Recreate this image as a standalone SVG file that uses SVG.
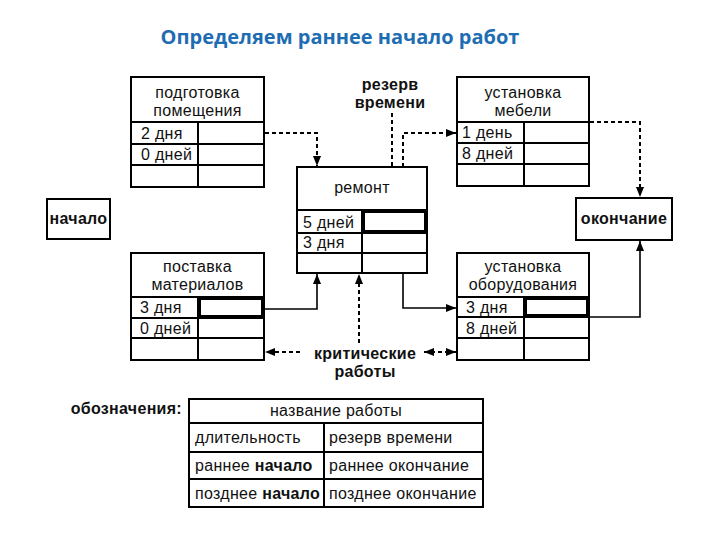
<svg xmlns="http://www.w3.org/2000/svg" width="720" height="540" viewBox="0 0 720 540">
<defs>
<style>
.box{fill:#fff;stroke:#000;stroke-width:2}
.ln{stroke:#000;stroke-width:2;fill:none}
.thick{fill:none;stroke:#000;stroke-width:4}
.t{font-family:"Liberation Sans",Arial,sans-serif;font-size:16px;letter-spacing:0.3px;fill:#111}
.c{text-anchor:middle}
.b{font-weight:bold}
.dash{stroke:#000;stroke-width:2;fill:none;stroke-dasharray:4 3}
.solid{stroke:#000;stroke-width:1.6;fill:none}
.title{font-family:"Open Sans","Liberation Sans",sans-serif;font-size:20px;font-weight:bold;fill:#1e6db3;text-anchor:middle}
</style>
<marker id="ah" viewBox="0 0 10 8" refX="10" refY="4" markerWidth="10" markerHeight="8" markerUnits="userSpaceOnUse" orient="auto-start-reverse">
<path d="M0,0 L10,4 L0,8 Z" fill="#000"/>
</marker>
</defs>
<rect width="720" height="540" fill="#fff"/>
<text class="title" x="340" y="44">Определяем раннее начало работ</text>

<g id="connectors">
<path class="dash" d="M265,133 H317 V166" marker-end="url(#ah)"/>
<path class="dash" d="M392,113 V167"/>
<path class="dash" d="M403,167 V133 H456" marker-end="url(#ah)"/>
<path class="dash" d="M590,122 H640 V197" marker-end="url(#ah)"/>
<path class="solid" d="M265,309 H317 V274" marker-end="url(#ah)"/>
<path class="dash" d="M359,343 V274" marker-end="url(#ah)"/>
<path class="solid" d="M403,273 V308 H456" marker-end="url(#ah)"/>
<path class="solid" d="M589,317 H640 V241" marker-end="url(#ah)"/>
<path class="dash" d="M300,352 H265" marker-end="url(#ah)"/>
<path class="dash" d="M424,352 H456" marker-start="url(#ah)" marker-end="url(#ah)"/>
</g>

<g id="rezerv-label">
<text class="t b c" x="390" y="90">резерв</text>
<text class="t b c" x="390" y="108">времени</text>
</g>
<g id="crit-label">
<text class="t b c" x="365" y="359">критические</text>
<text class="t b c" x="365" y="377">работы</text>
</g>

<g id="nachalo">
<rect class="box" x="47" y="199" width="63" height="40"/>
<text class="t b c" x="78.5" y="224">начало</text>
</g>

<g id="okonchanie">
<rect class="box" x="576" y="198" width="96" height="42"/>
<text class="t b c" x="624" y="224">окончание</text>
</g>

<g id="podgotovka">
<rect class="box" x="131" y="77" width="133" height="110"/>
<path class="ln" d="M131,122 H264 M131,144 H264 M131,165 H264 M198,122 V187"/>
<text class="t c" x="197.5" y="98">подготовка</text>
<text class="t c" x="197.5" y="116">помещения</text>
<text class="t" x="141" y="139">2 дня</text>
<text class="t" x="141" y="160">0 дней</text>
</g>

<g id="mebel">
<rect class="box" x="457" y="77" width="132" height="109"/>
<path class="ln" d="M457,122 H589 M457,143 H589 M457,164 H589 M524,122 V186"/>
<text class="t c" x="523" y="98">установка</text>
<text class="t c" x="523" y="116">мебели</text>
<text class="t" x="462" y="138">1 день</text>
<text class="t" x="462" y="159">8 дней</text>
</g>

<g id="remont">
<rect class="box" x="297" y="167" width="130" height="106"/>
<path class="ln" d="M297,210 H427 M297,233 H427 M297,253 H427 M362,210 V273"/>
<rect class="thick" x="363" y="211" width="63" height="21"/>
<text class="t c" x="362" y="193">ремонт</text>
<text class="t" x="303" y="228">5 дней</text>
<text class="t" x="303" y="248">3 дня</text>
</g>

<g id="postavka">
<rect class="box" x="131" y="253" width="133" height="107"/>
<path class="ln" d="M131,297 H264 M131,318 H264 M131,338 H264 M198,297 V360"/>
<rect class="thick" x="199" y="298" width="64" height="19"/>
<text class="t c" x="197.5" y="272">поставка</text>
<text class="t c" x="197.5" y="290">материалов</text>
<text class="t" x="140" y="313">3 дня</text>
<text class="t" x="140" y="334">0 дней</text>
</g>

<g id="oborudovanie">
<rect class="box" x="457" y="253" width="132" height="107"/>
<path class="ln" d="M457,297 H589 M457,317 H589 M457,338 H589 M524,297 V360"/>
<rect class="thick" x="525" y="298" width="63" height="18"/>
<text class="t c" x="523" y="272">установка</text>
<text class="t c" x="523" y="290">оборудования</text>
<text class="t" x="466" y="313">3 дня</text>
<text class="t" x="466" y="334">8 дней</text>
</g>

<g id="legend">
<text class="t b" x="182" y="414" text-anchor="end">обозначения:</text>
<rect class="box" x="189" y="399" width="294" height="108"/>
<path class="ln" d="M189,423 H483 M189,452 H483 M189,479 H483 M324,423 V507"/>
<text class="t c" x="336" y="416">название работы</text>
<text class="t" x="195" y="443">длительность</text>
<text class="t" x="329" y="443">резерв времени</text>
<text class="t" x="195" y="471">раннее <tspan class="b">начало</tspan></text>
<text class="t" x="329" y="471">раннее окончание</text>
<text class="t" x="195" y="499">позднее <tspan class="b">начало</tspan></text>
<text class="t" x="329" y="499">позднее окончание</text>
</g>
</svg>
